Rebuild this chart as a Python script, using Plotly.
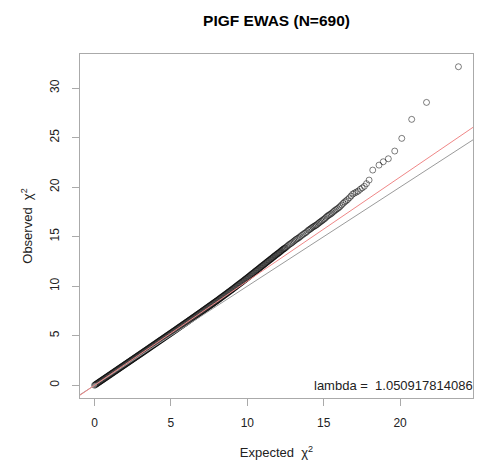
import plotly.graph_objects as go

# ---------------- data ----------------
title_text = "PIGF EWAS (N=690)"
lambda_gc = 1.050917814086

# dense part of the QQ band: expected chi^2 values
expected_dense = [
    0.00,0.05,0.10,0.15,0.20,0.25,0.30,0.35,0.40,0.45,0.50,0.55,0.60,0.65,0.70,0.75,0.80,0.85,0.90,0.95,
    1.00,1.05,1.10,1.15,1.20,1.25,1.30,1.35,1.40,1.45,1.50,1.55,1.60,1.65,1.70,1.75,1.80,1.85,1.90,1.95,
    2.00,2.05,2.10,2.15,2.20,2.25,2.30,2.35,2.40,2.45,2.50,2.55,2.60,2.65,2.70,2.75,2.80,2.85,2.90,2.95,
    3.00,3.05,3.10,3.15,3.20,3.25,3.30,3.35,3.40,3.45,3.50,3.55,3.60,3.65,3.70,3.75,3.80,3.85,3.90,3.95,
    4.00,4.05,4.10,4.15,4.20,4.25,4.30,4.35,4.40,4.45,4.50,4.55,4.60,4.65,4.70,4.75,4.80,4.85,4.90,4.95,
    5.00,5.05,5.10,5.15,5.20,5.25,5.30,5.35,5.40,5.45,5.50,5.55,5.60,5.65,5.70,5.75,5.80,5.85,5.90,5.95,
    6.00,6.05,6.10,6.15,6.20,6.25,6.30,6.35,6.40,6.45,6.50,6.55,6.60,6.65,6.70,6.75,6.80,6.85,6.90,6.95,
    7.00,7.05,7.10,7.15,7.20,7.25,7.30,7.35,7.40,7.45,7.50,7.55,7.60,7.65,7.70,7.75,7.80,7.85,7.90,7.95,
    8.00,8.05,8.10,8.15,8.20,8.25,8.30,8.35,8.40,8.45,8.50,8.55,8.60,8.65,8.70,8.75,8.80,8.85,8.90,8.95,
    9.00,9.05,9.10,9.15,9.20,9.25,9.30,9.35,9.40,9.45,9.50,9.55,9.60,9.65,9.70,9.75,9.80,9.85,9.90,9.95,
    10.00,10.05,10.10,10.15,10.20,10.25,10.30,10.35,10.40,10.45,10.50,10.55,10.60,10.65,10.70,10.75,10.80,10.85,10.90,10.95,
    11.00,11.05,11.10,11.15,11.20,11.25,11.30,11.35,11.40,11.45,11.50,11.55,11.60,11.65,11.70,11.75,11.80,11.85,11.90,11.95,
    12.00,12.05,12.10,12.15,12.20,12.25,12.30,12.35,12.40,12.45,12.50,12.58,12.66,12.74,12.82,12.90,12.98,
    13.06,13.14,13.22,13.30,13.38,13.46,13.55,13.64,13.73,13.82,13.91,
]
observed_dense = [
    0.00,0.05,0.11,0.16,0.21,0.26,0.32,0.37,0.42,0.47,0.53,0.58,0.63,0.68,0.74,0.79,0.84,0.89,0.95,1.00,
    1.05,1.10,1.16,1.21,1.26,1.31,1.37,1.42,1.47,1.52,1.58,1.63,1.68,1.73,1.79,1.84,1.89,1.94,2.00,2.05,
    2.10,2.15,2.21,2.26,2.31,2.36,2.42,2.47,2.52,2.57,2.63,2.68,2.73,2.78,2.84,2.89,2.94,2.99,3.05,3.10,
    3.15,3.20,3.26,3.31,3.36,3.42,3.47,3.52,3.57,3.63,3.68,3.73,3.79,3.84,3.89,3.95,4.00,4.05,4.10,4.16,
    4.21,4.26,4.32,4.37,4.42,4.48,4.53,4.58,4.63,4.69,4.74,4.79,4.85,4.90,4.95,5.01,5.06,5.11,5.16,5.22,
    5.27,5.32,5.38,5.43,5.48,5.54,5.59,5.64,5.70,5.75,5.81,5.86,5.91,5.97,6.02,6.07,6.13,6.18,6.23,6.29,
    6.34,6.39,6.45,6.50,6.56,6.61,6.66,6.72,6.77,6.83,6.88,6.93,6.99,7.04,7.10,7.15,7.20,7.26,7.31,7.37,
    7.42,7.48,7.53,7.59,7.64,7.70,7.75,7.81,7.86,7.92,7.97,8.03,8.08,8.14,8.19,8.25,8.30,8.36,8.41,8.47,
    8.52,8.58,8.63,8.69,8.75,8.81,8.86,8.92,8.98,9.03,9.09,9.15,9.20,9.26,9.32,9.38,9.43,9.49,9.55,9.60,
    9.66,9.72,9.78,9.84,9.90,9.96,10.02,10.08,10.14,10.20,10.26,10.31,10.37,10.43,10.49,10.55,10.61,10.67,10.73,10.79,
    10.85,10.91,10.97,11.03,11.10,11.16,11.22,11.28,11.34,11.40,11.47,11.53,11.59,11.65,11.71,11.77,11.83,11.90,11.96,12.02,
    12.08,12.14,12.20,12.26,12.32,12.39,12.45,12.51,12.57,12.63,12.69,12.75,12.81,12.87,12.94,13.00,13.06,13.12,13.18,13.24,
    13.30,13.35,13.41,13.47,13.54,13.61,13.67,13.73,13.78,13.83,13.89,13.99,14.10,14.20,14.28,14.36,14.46,
    14.56,14.66,14.75,14.82,14.90,15.00,15.12,15.22,15.32,15.40,15.52,
]

# sparser upper part of the band
expected_upper = [
    14.00,14.07,14.15,14.22,14.30,14.38,14.45,14.52,14.60,14.68,14.75,14.83,14.90,14.98,15.06,
    15.14,15.22,15.30,15.38,15.47,15.55,15.64,15.72,15.81,15.90,15.99,16.08,16.17,16.27,16.37,
    16.47,16.57,16.68,16.79,16.90,17.02,17.14,17.26,17.39,17.52,17.66,17.80,17.97,
]
observed_upper = [
    15.65,15.72,15.80,15.89,15.98,16.05,16.11,16.18,16.27,16.38,16.46,16.55,16.63,16.72,16.81,
    16.93,17.05,17.14,17.22,17.30,17.40,17.52,17.63,17.73,17.82,17.93,18.05,18.20,18.36,18.50,
    18.62,18.75,18.92,19.10,19.30,19.40,19.50,19.60,19.78,19.92,20.08,20.35,20.71,
]

# isolated top points
expected_tail = [18.21, 18.62, 18.90, 19.23, 19.65, 20.11, 20.76, 21.73, 23.82]
observed_tail = [21.72, 22.22, 22.56, 22.86, 23.64, 24.92, 26.84, 28.55, 32.15]

x_ticks = [0, 5, 10, 15, 20]
y_ticks = [0, 5, 10, 15, 20, 25, 30]

# ---------------- figure ----------------
assert len(expected_dense) == len(observed_dense)
assert len(expected_upper) == len(observed_upper)
assert len(expected_tail) == len(observed_tail)
expected = expected_dense + expected_upper + expected_tail
observed = observed_dense + observed_upper + observed_tail

def padded(vals, frac=0.04):
    lo, hi = min(vals), max(vals)
    d = (hi - lo) * frac
    return [lo - d, hi + d]

xr = padded(expected)
yr = padded(observed)

fig = go.Figure()
fig.add_trace(go.Scatter(
    x=expected, y=observed, mode="markers",
    marker=dict(symbol="circle-open", size=6, color="black", opacity=0.5,
                line=dict(width=1)),
    hoverinfo="skip", showlegend=False,
))
# reference lines (abline style), spanning the whole plot region
line_x = [xr[0] - 5, xr[1] + 5]
fig.add_trace(go.Scatter(
    x=line_x, y=[v for v in line_x], mode="lines",
    line=dict(color="rgb(155,155,155)", width=1),
    hoverinfo="skip", showlegend=False,
))
fig.add_trace(go.Scatter(
    x=line_x, y=[v * lambda_gc for v in line_x], mode="lines",
    line=dict(color="rgb(240,135,135)", width=1),
    hoverinfo="skip", showlegend=False,
))

axis_common = dict(
    showgrid=False, zeroline=False, showline=True, mirror=True,
    linecolor="#aaaaaa", linewidth=1, ticks="outside", ticklen=7,
    tickcolor="#aaaaaa", tickwidth=1, automargin=False,
    tickfont=dict(family="Liberation Sans, Arial, sans-serif", size=12, color="#222222"),
)

fig.update_layout(
    width=484, height=466,
    margin=dict(l=80, r=11, t=54, b=68),
    paper_bgcolor="white", plot_bgcolor="white",
    font=dict(family="Liberation Sans, Arial, sans-serif", size=12, color="#222222"),
    title=dict(text="<b>" + title_text + "</b>", x=0.5, xref="paper",
               y=1 - 21 / 466, yref="container", yanchor="middle",
               font=dict(size=15.5, color="black")),
    xaxis=dict(range=xr, tickvals=x_ticks, ticktext=[str(t) for t in x_ticks],
               ticklabelstandoff=7,
               title=dict(text="Expected \u00a0\u03c7<sup>2</sup>", standoff=18,
                          font=dict(size=13)),
               **axis_common),
    yaxis=dict(range=yr, tickvals=y_ticks, ticktext=[str(t) for t in y_ticks],
               tickangle=-90, ticklabelstandoff=8,
               title=dict(text="Observed \u00a0\u03c7<sup>2</sup>", standoff=12,
                          font=dict(size=13)),
               **axis_common),
    annotations=[dict(
        text="lambda = \u00a01.050917814086", xref="paper", x=1.0, xanchor="right",
        xshift=2, yref="y", y=0, yanchor="middle", showarrow=False,
        font=dict(size=13, color="#222222"),
    )],
)

fig.write_html("out.html", post_script="document.body.style.margin='0';",
               config={"displayModeBar": False})
